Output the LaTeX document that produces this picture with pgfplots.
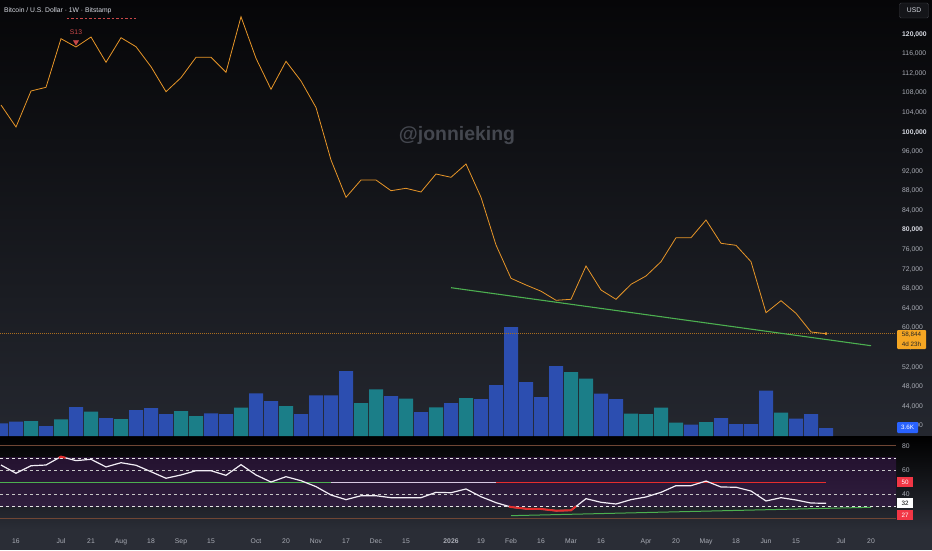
\documentclass[border=0pt]{standalone}
\usepackage{pgfplots}
\pgfplotsset{compat=1.18}
\usepackage{fontspec}
\setmainfont{Liberation Sans}
\definecolor{bgtop}{RGB}{6,6,8}
\definecolor{bgbot}{RGB}{36,39,47}
\definecolor{rsibot}{RGB}{42,45,54}
\definecolor{volblue}{RGB}{44,78,176}
\definecolor{volteal}{RGB}{27,126,136}
\definecolor{priceor}{RGB}{232,150,40}
\definecolor{dotor}{RGB}{170,110,30}
\definecolor{tlgreen}{RGB}{76,175,80}
\definecolor{rsiwhite}{RGB}{242,238,246}
\definecolor{rsired}{RGB}{229,45,45}
\definecolor{bandor}{RGB}{112,70,52}
\definecolor{tickgrey}{RGB}{170,173,182}
\definecolor{tickbright}{RGB}{215,218,226}
\definecolor{wm}{RGB}{68,71,79}
\definecolor{s13red}{RGB}{200,72,72}
\definecolor{purpT}{RGB}{36,18,48}
\definecolor{purpB}{RGB}{48,30,62}
\definecolor{lav}{RGB}{215,200,225}
\definecolor{tvorange}{RGB}{245,166,35}
\definecolor{tvblue}{RGB}{41,98,255}
\definecolor{tvred}{RGB}{242,54,69}
\newcommand\tv{\fontsize{6.8}{8}\selectfont}
\pgfplotsset{tvbase/.style={scale only axis, width=896bp, xmin=-0.0667, xmax=59.667,
  axis line style={draw=none}, tick style={draw=none}, major tick length=0pt, anchor=south west,
  scaled y ticks=false}}
\begin{document}
\begin{tikzpicture}
\begin{scope}[x=1bp,y=1bp]
\path[use as bounding box] (0,0) rectangle (932,550);
\shade[top color=bgtop, bottom color=bgbot] (0,114) rectangle (932,550);
\shade[top color=black, bottom color=rsibot] (0,20) rectangle (932,114);
\fill[rsibot] (0,0) rectangle (932,20);
\node[font=\bfseries\fontsize{19.5}{20}\selectfont, text=wm] at (457,414) {@jonnieking};
\end{scope}

% volume
\begin{axis}[tvbase, at={(0bp,114bp)}, height=436bp, ymin=0, ymax=196.2, xtick=\empty, ytick=\empty]
\addplot[ybar, bar width=14bp, bar shift=0pt, fill=volblue, draw=none] coordinates {
(0,5.7) (1,6.5) (3,4.5) (5,13.05) (7,8.0) (9,11.7) (10,12.5) (11,9.9) (14,10.2) (15,9.9)
(17,19.2) (18,15.75) (20,9.9) (21,18.3) (22,18.3) (23,29.25) (26,18.0) (28,10.7) (30,14.85)
(32,16.65) (33,22.95) (34,49.05) (35,24.2) (36,17.55) (37,31.4) (40,19.1) (41,16.65)
(46,5.1) (48,8.0) (49,5.3) (50,5.3) (51,20.4) (53,7.8) (54,9.9) (55,3.6)};
\addplot[ybar, bar width=14bp, bar shift=0pt, fill=volteal, draw=none] coordinates {
(2,6.75) (4,7.5) (6,11.0) (8,7.65) (12,11.25) (13,8.9) (16,12.8) (19,13.5) (24,14.85)
(25,21.0) (27,16.8) (29,12.9) (31,17.1) (38,28.7) (39,25.8) (42,10.1) (43,9.8) (44,12.8)
(45,6.0) (47,6.3) (52,10.5)};
\end{axis}

% price
\begin{axis}[tvbase, at={(0bp,114bp)}, height=436bp, ymin=37937, ymax=127007, xtick=\empty,
  ytick={40000,44000,48000,52000,56000,60000,64000,68000,72000,76000,80000,84000,88000,92000,96000,100000,104000,108000,112000,116000,120000},
  yticklabels={{40,000},{44,000},{48,000},{52,000},{56,000},{60,000},{64,000},{68,000},{72,000},{76,000},
  {\color{tickbright}\textbf{80,000}},{84,000},{88,000},{92,000},{96,000},{\color{tickbright}\textbf{100,000}},
  {104,000},{108,000},{112,000},{116,000},{\color{tickbright}\textbf{120,000}}},
  yticklabel pos=right,
  yticklabel style={anchor=west, inner sep=0pt, xshift=6bp, font=\tv, text=tickgrey}]
\addplot[dotor, line width=1bp, dash pattern=on 1bp off 1bp] coordinates {(-0.0667,58844) (59.667,58844)};
\addplot[tlgreen, line width=1.1bp] coordinates {(30,68233) (58,56384)};
\addplot[priceor, line width=0.8bp] coordinates {
(0,105557) (1,101062) (2,108417) (3,109173) (4,119101) (5,117406) (6,119448) (7,114280)
(8,119305) (9,117467) (10,113381) (11,108274) (12,111134) (13,115301) (14,115301) (15,112237)
(16,123595) (17,115097) (18,108764) (19,114484) (20,110460) (21,105046) (22,94321) (23,86701)
(24,90235) (25,90235) (26,88049) (27,88539) (28,87783) (29,91461) (30,90787) (31,93504)
(32,86701) (33,76956) (34,70153) (35,68785) (36,67518) (37,65659) (38,65863) (39,72666)
(40,67763) (41,65863) (42,68927) (43,70623) (44,73545) (45,78447) (46,78447) (47,82063)
(48,77303) (49,76895) (50,73545) (51,63126) (52,65577) (53,63003) (54,59183) (55,58844)};
\addplot[only marks, mark=*, mark size=1.2bp, color=priceor] coordinates {(55,58844)};
\addplot[s13red, line width=0.6bp, dash pattern=on 2.5bp off 2bp] coordinates {(4.38,123269) (9,123269)};
\addplot[only marks, mark=triangle*, mark size=3bp, color=s13red, mark options={rotate=180, fill=s13red}] coordinates {(5,118400)};
\node[font=\tv, text=s13red] at (axis cs:5,120470) {S13};
\end{axis}

% RSI
\begin{axis}[tvbase, at={(0bp,20bp)}, height=93bp, ymin=10.6, ymax=87.16,
  xtick={1,4,6,8,10,12,14,17,19,21,23,25,27,30,32,34,36,38,40,43,45,47,49,51,53,56,58},
  xticklabels={16,Jul,21,Aug,18,Sep,15,Oct,20,Nov,17,Dec,15,\textbf{2026},19,Feb,16,Mar,16,Apr,20,May,18,Jun,15,Jul,20},
  xticklabel style={anchor=base, inner sep=0pt, yshift=-13.5bp, font=\tv, text=tickgrey},
  ytick={20,40,60,80}, yticklabels={20,40,60,80}, yticklabel pos=right,
  yticklabel style={anchor=west, inner sep=0pt, xshift=6bp, font=\tv, text=tickgrey}]
\addplot[draw=none, top color=purpT, bottom color=purpB] coordinates {(-0.0667,30) (-0.0667,70) (59.667,70) (59.667,30)} -- cycle;
\addplot[bandor, line width=0.8bp] coordinates {(-0.0667,80) (59.667,80)};
\addplot[bandor, line width=0.8bp] coordinates {(-0.0667,20) (59.667,20)};
\addplot[white!80!gray, line width=0.6bp, dash pattern=on 3bp off 3bp] coordinates {(-0.0667,70) (59.667,70)};
\addplot[white!55!gray, line width=0.5bp, dash pattern=on 3bp off 3bp] coordinates {(-0.0667,60) (59.667,60)};
\addplot[white!55!gray, line width=0.5bp, dash pattern=on 3bp off 3bp] coordinates {(-0.0667,40) (59.667,40)};
\addplot[white!80!gray, line width=0.6bp, dash pattern=on 3bp off 3bp] coordinates {(-0.0667,30) (59.667,30)};
\addplot[tlgreen, line width=1bp] coordinates {(-0.0667,50) (22,50)};
\addplot[lav, line width=1bp] coordinates {(22,50) (33,50)};
\addplot[rsired, line width=1bp] coordinates {(33,50) (55,50)};
\addplot[tlgreen, line width=1bp] coordinates {(34,22.4) (58,29.3)};
\addplot[rsiwhite, line width=1.2bp] coordinates {
(0,64.1) (1,57.3) (2,63.5) (3,64.1) (4,71.0) (5,67.7) (6,68.8) (7,62.5) (8,66.0) (9,63.9)
(10,58.6) (11,53.2) (12,55.9) (13,59.4) (14,59.4) (15,55.6) (16,64.4) (17,55.9) (18,50.1)
(19,54.5) (20,51.2) (21,46.3) (22,39.4) (23,35.6) (24,38.8) (25,38.8) (26,37.2) (27,37.2)
(28,37.2) (29,41.6) (30,41.3) (31,44.4) (32,38.0) (33,33.1) (34,29.5) (35,28.1) (36,27.9)
(37,26.5) (38,26.8) (39,36.4) (40,33.4) (41,32.0) (42,35.6) (43,37.8) (44,41.6) (45,47.1)
(46,47.1) (47,50.9) (48,46.0) (49,45.8) (50,42.7) (51,34.5) (52,37.2) (53,35.3) (54,32.8) (55,32.6)};
\addplot[rsired, line width=2bp] coordinates {(3.86,70) (4,71.0) (4.3,70)};
\addplot[rsired, line width=2bp] coordinates {(33.86,30) (34,29.5) (35,28.1) (36,27.9) (37,26.5) (38,26.8) (38.33,30)};
\end{axis}

\begin{scope}[x=1bp,y=1bp]
% title
\node[anchor=west, inner sep=0pt, font=\fontsize{6.8}{7}\selectfont, text=tickbright] at (4,539.7) {Bitcoin / U.S. Dollar · 1W · Bitstamp};
% USD box
\node[draw={rgb,255:red,62;green,64;blue,70}, fill={rgb,255:red,20;green,21;blue,25}, rounded corners=1.5bp,
  minimum width=29bp, minimum height=15bp, inner sep=0pt, font=\tv, text=tickbright] at (914,539.5) {USD};
% price label
\fill[tvorange, rounded corners=1bp] (897,201) rectangle (926,220);
\node[font=\fontsize{6.3}{7}\selectfont, text=black!85] at (911.5,215) {58,844};
\node[font=\fontsize{6.3}{7}\selectfont, text=black!85] at (911.5,206) {4d 23h};
% volume label
\fill[tvblue, rounded corners=1bp] (897,117) rectangle (918,128);
\node[font=\fontsize{6.3}{7}\selectfont, text=white] at (907.5,122.5) {3.6K};
% RSI labels
\fill[tvred] (897,63) rectangle (913,73);
\node[font=\fontsize{6.3}{7}\selectfont, text=white] at (905,68) {50};
\fill[white] (897,42) rectangle (913,52);
\node[font=\fontsize{6.3}{7}\selectfont, text=black] at (905,47) {32};
\fill[tvred] (897,30) rectangle (913,40);
\node[font=\fontsize{6.3}{7}\selectfont, text=white] at (905,35) {27};
\end{scope}
\end{tikzpicture}
\end{document}
